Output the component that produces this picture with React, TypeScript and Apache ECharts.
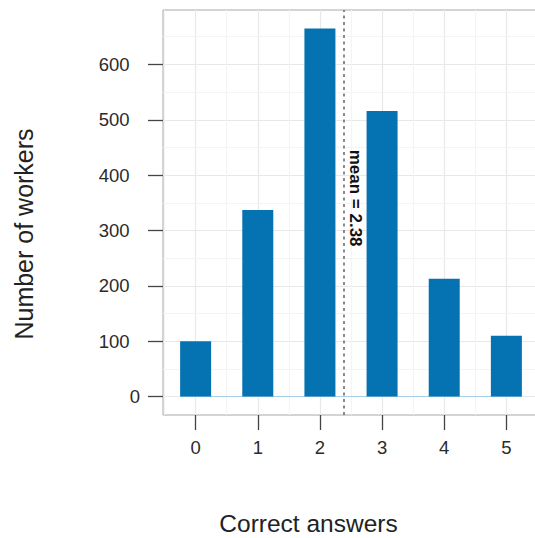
import React, { useEffect, useRef } from "react";
import * as echarts from "echarts";

// ---- data ----
const categories = [0, 1, 2, 3, 4, 5];
const workerCounts = [100, 337, 665, 516, 213, 110];
const meanValue = 2.38;
const meanLabel = "mean = 2.38";
const xTickValues = [0, 1, 2, 3, 4, 5];
const xMinorValues = [-0.5, 0.5, 1.5, 2.5, 3.5, 4.5, 5.5];
const yTickValues = [0, 100, 200, 300, 400, 500, 600];
const yMinorValues = [50, 150, 250, 350, 450, 550, 650];
const xTitle = "Correct answers";
const yTitle = "Number of workers";

// ---- layout / style ----
const FONT = "'Liberation Sans', Arial, Helvetica, sans-serif";
const BAR_HALF = 0.25;
const EXPAND = 0.05;
const MEAN_LABEL_Y = 358.5;
const LABEL_FONT_SIZE = 18.5;
const LABEL_COLOR = "#2b2b2b";

export default function App() {
  const ref = useRef<HTMLDivElement>(null);

  useEffect(() => {
    document.body.style.margin = "0";
    if (!ref.current) return;
    const chart = echarts.init(ref.current, undefined, { renderer: "svg" });

    const xLo = Math.min(...categories) - BAR_HALF;
    const xHi = Math.max(...categories) + BAR_HALF;
    const xPad = (xHi - xLo) * EXPAND;
    const yLo = 0;
    const yHi = Math.max(...workerCounts);
    const yPad = (yHi - yLo) * EXPAND;

    const minorColor = "#f4f4f4";
    const markData: any[] = [
      ...xMinorValues.map((v) => ({ xAxis: v, lineStyle: { color: minorColor, width: 1, type: "solid" } })),
      ...yMinorValues.map((v) => ({ yAxis: v, lineStyle: { color: minorColor, width: 1, type: "solid" } })),
      [
        { coord: [xLo, 0], lineStyle: { color: "#a9cde5", width: 1, type: "solid" } },
        { coord: [xHi, 0] },
      ],
      { xAxis: meanValue, lineStyle: { color: "#6e6e6e", width: 1.6, type: [3, 3.5] } },
    ];

    const labelText = {
      fontSize: LABEL_FONT_SIZE,
      color: LABEL_COLOR,
      fontFamily: FONT,
    };

    const option: any = {
      animation: false,
      grid: {
        left: 163,
        top: 10,
        right: -4,
        bottom: 123,
        show: true,
        borderColor: "#a8a8a8",
        borderWidth: 1,
        backgroundColor: "transparent",
        outerBoundsMode: "none",
      },
      xAxis: {
        type: "value",
        min: xLo - xPad,
        max: xHi + xPad,
        axisLine: { show: false, onZero: false },
        axisTick: {
          show: true,
          customValues: xTickValues,
          length: 15,
          lineStyle: { color: "#444", width: 1.3 },
        },
        axisLabel: {
          customValues: xTickValues,
          margin: 23,
          ...labelText,
        },
        splitLine: { show: true, lineStyle: { color: "#e8e8e8", width: 1.2 } },
      },
      yAxis: {
        type: "value",
        min: yLo - yPad,
        max: yHi + yPad,
        axisLine: { show: false, onZero: false },
        axisTick: {
          show: true,
          customValues: yTickValues,
          length: 15,
          lineStyle: { color: "#444", width: 1.3 },
        },
        axisLabel: {
          customValues: yTickValues,
          margin: 23,
          ...labelText,
          formatter: (v: number) => (v === 0 ? "{z|" + v + "}" : "{p|" + v + "}"),
          rich: {
            z: { ...labelText },
            p: { ...labelText, padding: [0, 10.5, 0, 0] },
          },
        },
        splitLine: { show: true, lineStyle: { color: "#e8e8e8", width: 1.2 } },
      },
      series: [
        {
          type: "bar",
          data: categories.map((c, i) => [c, workerCounts[i]]),
          barWidth: 31,
          itemStyle: { color: "#0572B2" },
          markLine: {
            silent: true,
            symbol: ["none", "none"],
            z: 1,
            label: { show: false },
            data: markData,
          },
          markPoint: {
            silent: true,
            symbol: "circle",
            symbolSize: 1,
            itemStyle: { color: "rgba(0,0,0,0)" },
            data: [
              {
                coord: [meanValue, MEAN_LABEL_Y],
                label: {
                  show: true,
                  formatter: meanLabel,
                  position: "inside",
                  rotate: -90,
                  offset: [0, -11.5],
                  fontSize: 17,
                  fontWeight: "bold",
                  color: "#111",
                  fontFamily: FONT,
                },
              },
            ],
          },
        },
      ],
      graphic: [
        {
          type: "text",
          x: 308.5,
          y: 523.5,
          style: {
            text: xTitle,
            align: "center",
            verticalAlign: "middle",
            fontSize: 24.5,
            lineHeight: 24,
            fill: "#222",
            fontFamily: FONT,
          },
        },
        {
          type: "text",
          x: 24,
          y: 234,
          rotation: Math.PI / 2,
          style: {
            text: yTitle,
            align: "center",
            verticalAlign: "middle",
            fontSize: 25,
            fill: "#222",
            fontFamily: FONT,
          },
        },
      ],
    };

    chart.setOption(option);
    return () => chart.dispose();
  }, []);

  return <div ref={ref} style={{ width: 535, height: 538 }} />;
}
